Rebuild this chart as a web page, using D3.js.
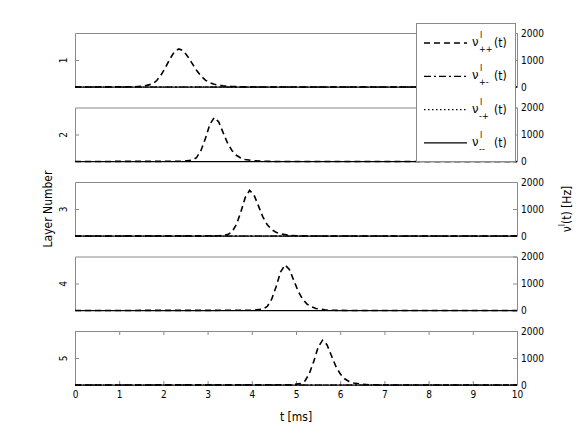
<!DOCTYPE html>
<html>
<head>
<meta charset="utf-8">
<script src="https://cdn.jsdelivr.net/npm/d3@7"></script>
<style>
  body { margin: 0; background: #fff; }
  svg text { font-family: 'Liberation Sans Narrow', 'DejaVu Sans Condensed', 'Noto Sans', sans-serif; fill: #000; }
</style>
</head>
<body>
<svg id="chart" width="578" height="434"></svg>
<script>
(function () {
    'use strict';

    // layer numbers shown on the left of each panel
    var layers = [1, 2, 3, 4, 5];
    var xTicks = [0, 1, 2, 3, 4, 5, 6, 7, 8, 9, 10];
    var yTicks = [0, 1000, 2000];

    // nu_{++}(t) for each layer, times in ms, rate in Hz
    var t1 = [0, 1.35, 1.55, 1.75, 1.85, 1.95, 2.05, 2.15, 2.25, 2.35, 2.45, 2.55, 2.65, 2.75, 2.85, 2.95, 3.05, 3.15, 3.35, 3.55, 3.85, 4.15, 10];
    var v1 = [0, 7, 28, 113, 240, 450, 735, 1045, 1310, 1410, 1340, 1130, 875, 620, 410, 255, 155, 100, 42, 17, 6, 0, 0];
    var t2 = [0, 2.45, 2.65, 2.75, 2.85, 2.95, 3.05, 3.15, 3.25, 3.35, 3.45, 3.55, 3.65, 3.75, 3.85, 4.05, 4.25, 4.55, 10];
    var v2 = [0, 8, 50, 145, 410, 850, 1370, 1630, 1470, 1075, 685, 410, 230, 130, 75, 25, 8, 0, 0];
    var t3 = [0, 3.25, 3.45, 3.55, 3.65, 3.75, 3.85, 3.95, 4.05, 4.15, 4.25, 4.35, 4.45, 4.55, 4.65, 4.85, 5.05, 5.35, 10];
    var v3 = [0, 8, 50, 150, 420, 880, 1420, 1690, 1520, 1115, 710, 420, 235, 135, 76, 25, 8, 0, 0];
    var t4 = [0, 4.05, 4.25, 4.35, 4.45, 4.55, 4.65, 4.75, 4.85, 4.95, 5.05, 5.15, 5.25, 5.35, 5.45, 5.65, 5.85, 6.15, 10];
    var v4 = [0, 8, 50, 150, 420, 880, 1420, 1690, 1520, 1115, 710, 420, 235, 135, 76, 25, 8, 0, 0];
    var t5 = [0, 4.9, 5.1, 5.2, 5.3, 5.4, 5.5, 5.6, 5.7, 5.8, 5.9, 6.0, 6.1, 6.2, 6.3, 6.5, 6.7, 7.0, 10];
    var v5 = [0, 8, 50, 145, 415, 865, 1395, 1660, 1495, 1095, 695, 415, 230, 130, 75, 25, 8, 0, 0];

    // the other three rates stay at zero in every layer
    var tZero = [0, 10];
    var vZero = [0, 0];

    var ppTimes = [t1, t2, t3, t4, t5];
    var ppValues = [v1, v2, v3, v4, v5];

    var seriesNames = ['++', '+-', '-+', '--'];
    var seriesDash = ['6,4', '7,3,2,3', '1.5,2.5', null];

    var svg = d3.select('#chart');

    var left = 75, right = 517;
    var panelH = 54, panelStep = 74.5, firstTop = 33;

    var x = d3.scaleLinear().domain([0, 10]).range([left, right]);

    layers.forEach(function (layer, i) {
        var top = firstTop + i * panelStep;
        var y = d3.scaleLinear().domain([0, 2000]).range([top + panelH, top]);
        var g = svg.append('g');
        var last = i === layers.length - 1;

        // frame: top
        var topAxis = d3.axisTop(x).tickSizeInner(-4).tickSizeOuter(0).tickFormat('');
        if (last) topAxis.tickValues(xTicks); else topAxis.tickValues([]);
        g.append('g').attr('transform', 'translate(0,' + top + ')').call(topAxis);

        // bottom
        var botAxis = d3.axisBottom(x).tickSizeInner(-4).tickSizeOuter(0).tickPadding(6);
        if (last) botAxis.tickValues(xTicks).tickFormat(d3.format('d'));
        else botAxis.tickValues([]);
        g.append('g').attr('class', 'xb').attr('transform', 'translate(0,' + (top + panelH) + ')').call(botAxis);

        // left: one tick with the layer number
        var leftAxis = d3.axisLeft(y).tickValues([1000]).tickSizeInner(-4).tickSizeOuter(0).tickFormat(function () { return layer; });
        var la = g.append('g').attr('transform', 'translate(' + left + ',0)').call(leftAxis);
        la.selectAll('text')
            .attr('x', 0).attr('y', -8).attr('dy', null)
            .attr('text-anchor', 'middle')
            .attr('transform', 'rotate(-90)')
            .style('font-size', '10px');

        // right: rate
        var rightAxis = d3.axisRight(y).tickValues(yTicks).tickSizeInner(-4).tickSizeOuter(0).tickPadding(4).tickFormat(d3.format('d'));
        var ra = g.append('g').attr('transform', 'translate(' + right + ',0)').call(rightAxis);
        ra.selectAll('text').style('font-size', '10px');

        g.selectAll('.domain').attr('stroke', '#8a8a8a');
        g.selectAll('.tick line').attr('stroke', '#8a8a8a');
        g.selectAll('.tick text').attr('font-family', null).attr('font-size', null).style('font-size', '10px');

        var line = d3.line()
            .x(function (d) { return x(d[0]); })
            .y(function (d) { return y(d[1]); });

        // nu_{++}
        var pp = d3.zip(ppTimes[i], ppValues[i]);
        // others (zero)
        var zero = d3.zip(tZero, vZero);
        var data = [pp, zero, zero, zero];

        g.selectAll('path.rate')
            .data(data)
            .enter().append('path')
            .attr('class', 'rate')
            .attr('d', line)
            .attr('fill', 'none')
            .attr('stroke', '#000')
            .attr('stroke-width', function (d, k) { return k === 0 ? 1.6 : 1.2; })
            .attr('stroke-dasharray', function (d, k) { return seriesDash[k]; });
    });

    // axis titles
    var midY = firstTop + (panelStep * 4 + panelH) / 2;
    svg.append('text')
        .attr('transform', 'translate(48,' + midY + ') rotate(-90)')
        .attr('text-anchor', 'middle')
        .attr('dy', '0.35em')
        .style('font-size', '12px')
        .text('Layer Number');

    svg.append('text')
        .attr('x', (left + right) / 2)
        .attr('y', 421)
        .attr('text-anchor', 'middle')
        .style('font-size', '12px')
        .text('t [ms]');

    var rl = svg.append('text')
        .attr('transform', 'translate(567,' + midY + ') rotate(-90)')
        .attr('text-anchor', 'middle')
        .attr('dy', '0.35em')
        .style('font-size', '12px');
    rl.append('tspan').text('\u03bd');
    rl.append('tspan').attr('dy', -6).style('font-size', '9px').text('l');
    rl.append('tspan').attr('dy', 6).text('(t)  [Hz]');

    // legend
    var lg = svg.append('g');
    lg.append('rect')
        .attr('x', 416.5).attr('y', 23.5)
        .attr('width', 99).attr('height', 138)
        .attr('fill', '#fff')
        .attr('stroke', '#8a8a8a');

    seriesNames.forEach(function (name, k) {
        var ly = 43 + k * 33.3;
        lg.append('line')
            .attr('x1', 424).attr('x2', 467)
            .attr('y1', ly).attr('y2', ly)
            .attr('stroke', '#000')
            .attr('stroke-width', k === 0 ? 1.6 : 1.2)
            .attr('stroke-dasharray', seriesDash[k]);
        lg.append('text').attr('x', 472).attr('y', ly + 3).style('font-size', '13px').text('\u03bd');
        lg.append('text').attr('x', 480).attr('y', ly - 5).style('font-size', '9px').text('l');
        lg.append('text').attr('x', 479).attr('y', ly + 9).style('font-size', '9px').text(name);
        lg.append('text').attr('x', 494).attr('y', ly + 4).style('font-size', '12px').text('(t)');
    });
}());
</script>
</body>
</html>
